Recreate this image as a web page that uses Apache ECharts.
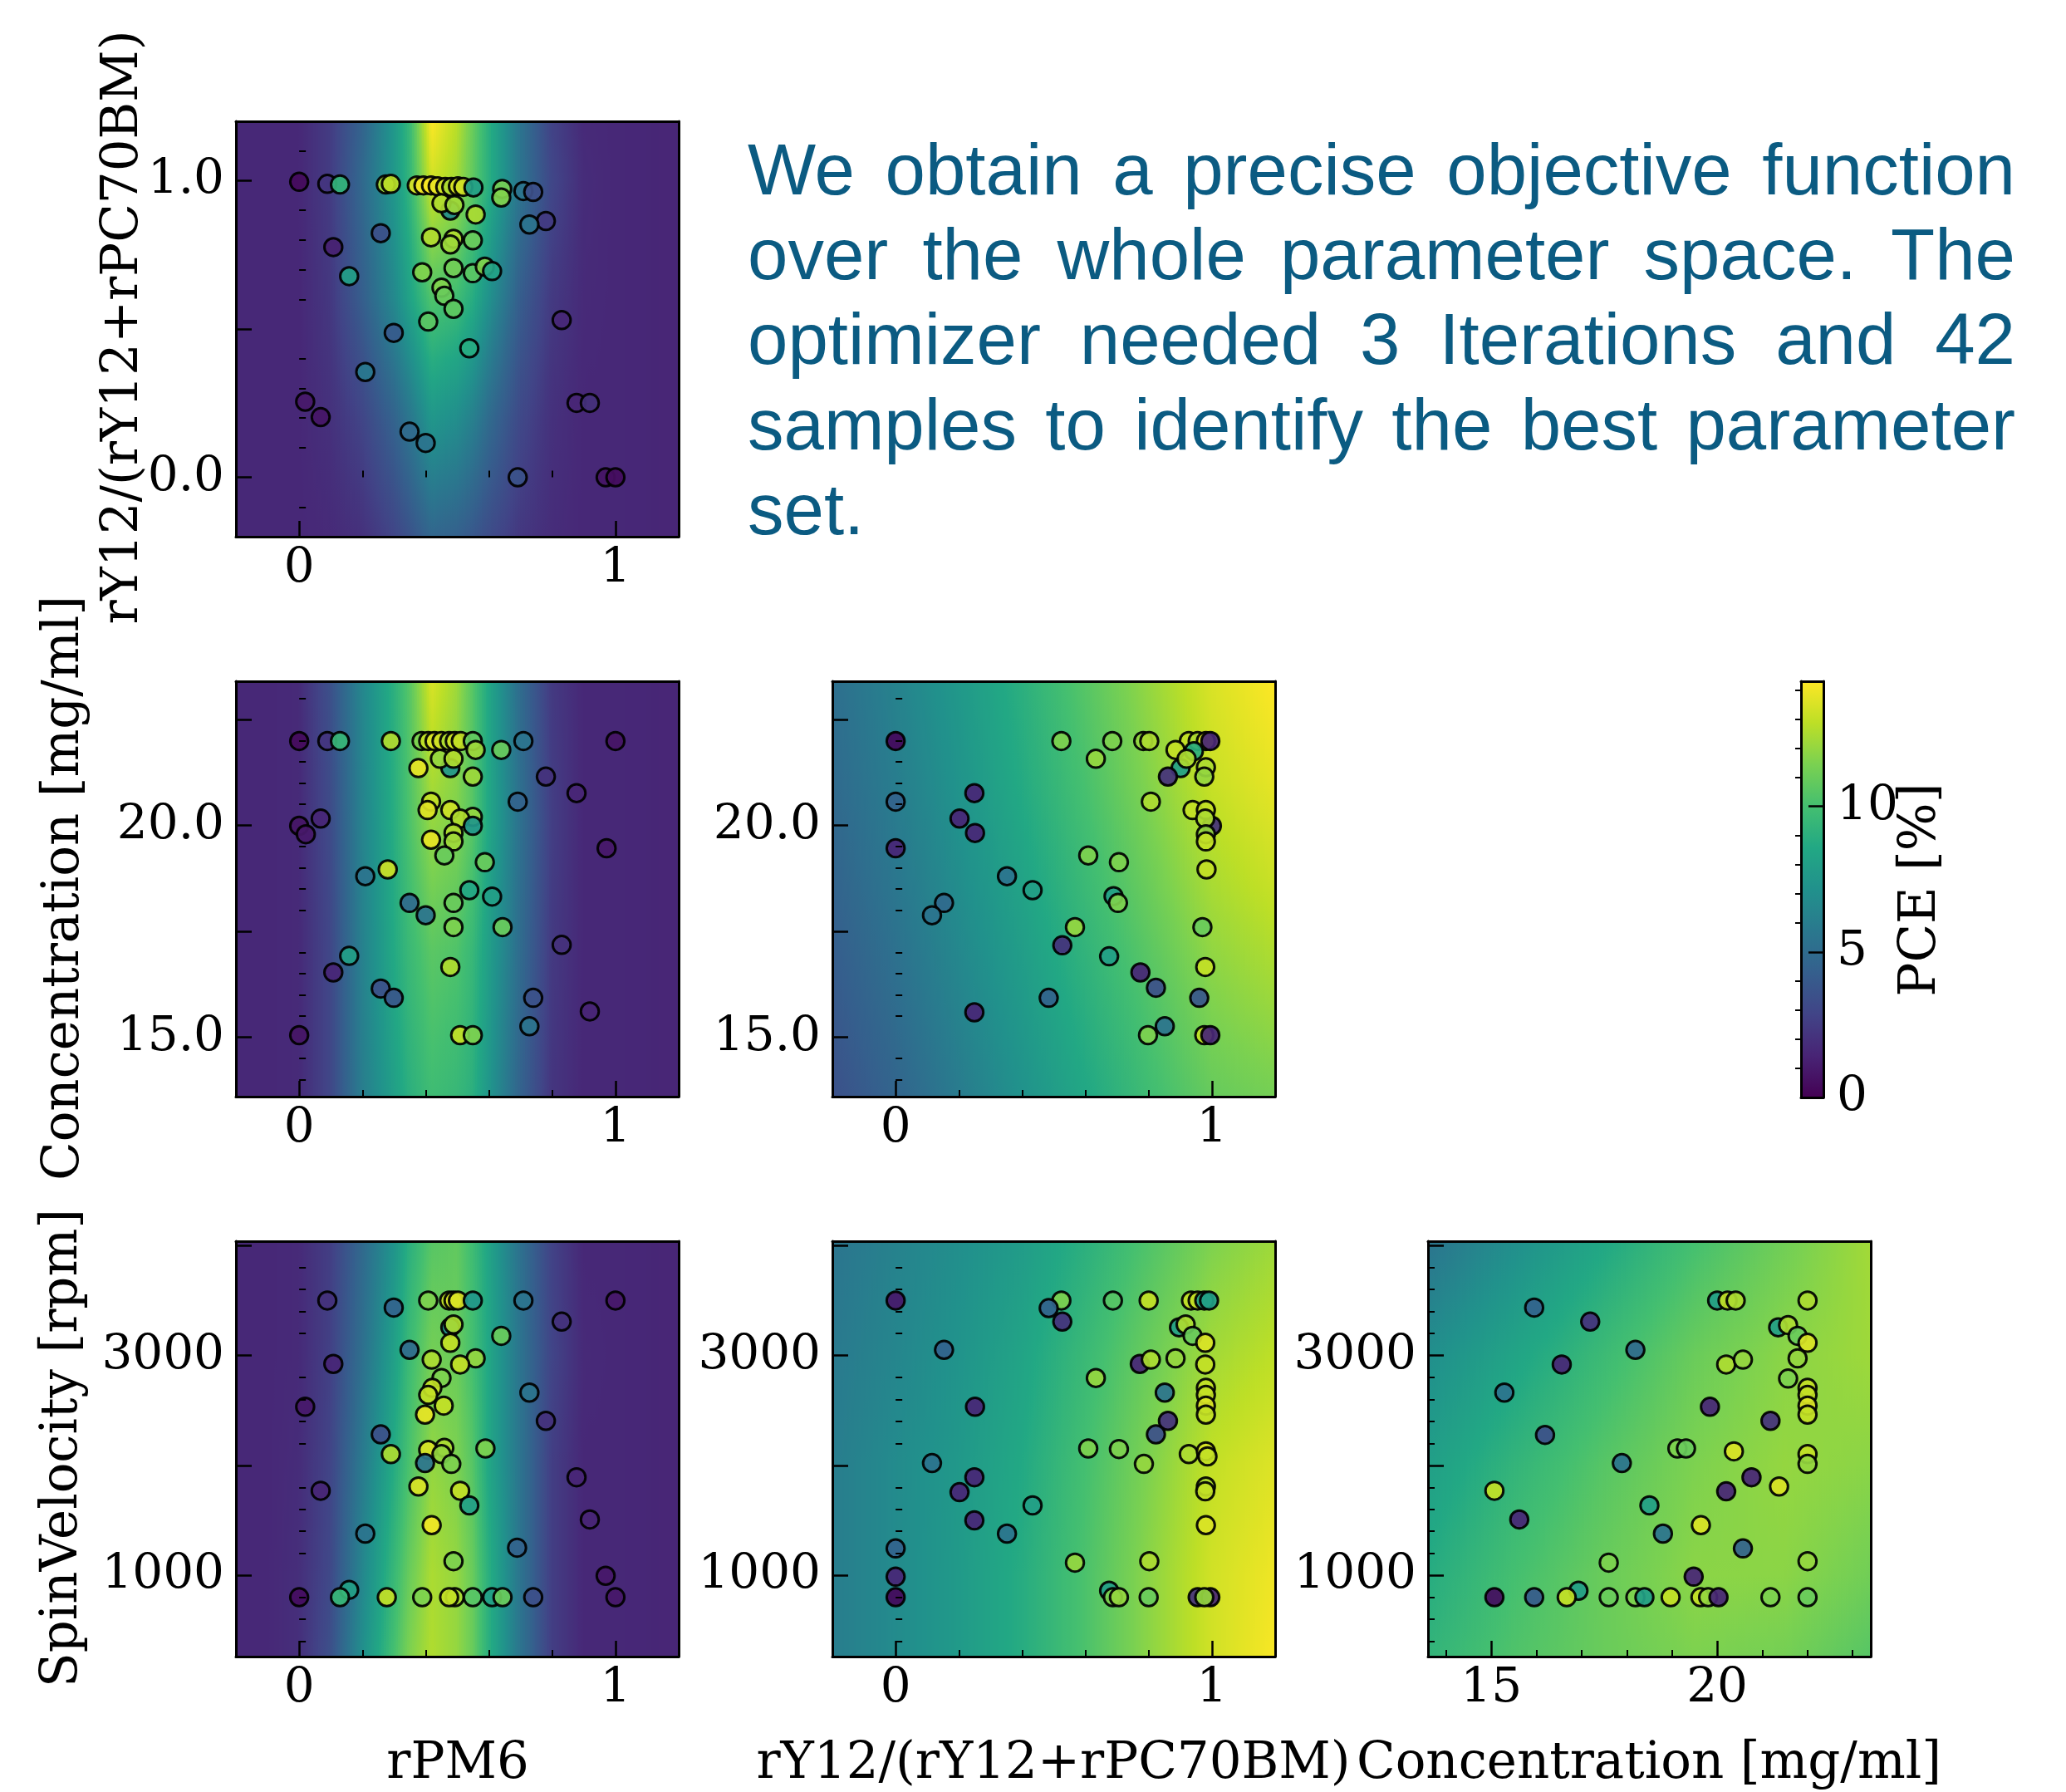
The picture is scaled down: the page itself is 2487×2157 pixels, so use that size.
<!DOCTYPE html>
<html><head><meta charset="utf-8">
<script src="https://cdn.jsdelivr.net/npm/echarts@6/dist/echarts.min.js"></script>
<style>html,body{margin:0;padding:0;background:#fff}#c{width:2487px;height:2157px}</style>
</head><body><div id="c"></div>
<script>
// ---------------- DATA ----------------
const pceRange = [0, 14.3];

const rangeRPM6 = [-0.2, 1.2];
const rangeRatio = [-0.2, 1.2];
const rangeConc = [13.6, 23.4];
const rangeSpin = [260, 4040];

const ticksUnitMajor = [0, 1];
const ticksUnitMinor = [0.2, 0.4, 0.6, 0.8];
const labelsUnitX = [0, 1];
const ticksRatioYMajor = [0, 0.5, 1];
const ticksRatioYMinor = [-0.1, 0.1, 0.2, 0.3, 0.4, 0.6, 0.7, 0.8, 0.9, 1.1];
const labelsRatioY = [0, 1];
const ticksConcXMajor = [15, 20];
const ticksConcXMinor = [14, 16, 17, 18, 19, 21, 22, 23];
const labelsConcX = [15, 20];
const ticksConcYMajor = [15, 17.5, 20, 22.5];
const ticksConcYMinor = [14, 14.5, 15.5, 16, 16.5, 17, 18, 18.5, 19, 19.5, 20.5, 21, 21.5, 22, 23];
const labelsConcY = [15, 20];
const ticksSpinMajor = [1000, 2000, 3000, 4000];
const ticksSpinMinor = [400, 600, 800, 1200, 1400, 1600, 1800, 2200, 2400, 2600, 2800, 3200, 3400, 3600, 3800];
const labelsSpin = [1000, 3000];
const ticksCbarMajor = [0, 5, 10];
const ticksCbarMinor = [1, 2, 3, 4, 6, 7, 8, 9, 11, 12, 13, 14];
const labelsCbar = [0, 5, 10];

const titleRPM6 = 'rPM6';
const titleRatio = 'rY12/(rY12+rPC70BM)';
const titleConc = 'Concentration [mg/ml]';
const titleSpin = 'SpinVelocity [rpm]';
const titleCbar = 'PCE [%]';
const paraLines = [
  'We obtain a precise objective function',
  'over the whole parameter space. The',
  'optimizer needed 3 Iterations and 42',
  'samples to identify the best parameter',
  'set.'
];

// background surfaces (model prediction, PCE), rows follow the y nodes
const bgRpmRatioX = [-0.2,-0.1,0,0.1,0.2,0.3,0.35,0.42,0.5,0.55,0.6,0.7,0.8,0.9,1.0,1.2];
const bgRpmRatioY = [-0.2,0.2,0.6,1.0,1.2];
const bgRpmRatioZ = [
  [1.6,1.6,1.6,1.7,2.0,2.9,3.6,4.7,4.4,3.9,3.3,2.3,1.8,1.6,1.6,1.5],
  [1.6,1.6,1.6,2.0,2.9,4.5,5.6,7.5,7.0,6.2,5.0,3.1,2.0,1.6,1.6,1.5],
  [1.6,1.6,1.6,2.3,4.2,6.6,8.2,10.3,9.8,8.8,7.2,4.2,2.4,1.7,1.6,1.5],
  [1.6,1.6,1.6,2.5,4.8,7.5,9.3,13.3,12.3,10.8,9.0,5.5,3.0,1.8,1.6,1.5],
  [1.6,1.6,1.6,2.5,4.5,7.5,9.5,14.3,12.8,11.0,9.0,5.5,2.8,1.7,1.6,1.5]
];
const bgRpmConcX = [-0.2,-0.1,0,0.1,0.2,0.3,0.35,0.42,0.5,0.55,0.6,0.7,0.8,0.9,1.0,1.2];
const bgRpmConcY = [13.6,17,20,23.4];
const bgRpmConcZ = [
  [1.6,1.6,1.7,3.0,6.0,8.0,9.0,9.8,9.5,9.0,7.5,4.5,2.2,1.6,1.6,1.5],
  [1.6,1.6,1.7,3.0,6.2,8.6,9.6,10.6,10.3,9.5,8.0,5.0,2.4,1.6,1.6,1.5],
  [1.6,1.6,1.7,3.2,6.3,8.8,10.2,12.0,11.5,10.5,8.5,5.3,2.6,1.6,1.6,1.5],
  [1.6,1.6,1.7,3.5,6.5,9.0,10.5,13.5,12.2,10.5,8.5,5.0,2.4,1.6,1.6,1.5]
];
const bgRatioConcX = [-0.2,0,0.2,0.4,0.6,0.8,1.0,1.2];
const bgRatioConcY = [13.6,16,18.5,21,23.4];
const bgRatioConcZ = [
  [3.5,4.6,5.9,7.2,8.5,9.8,10.9,11.3],
  [4.0,5.1,6.4,7.7,9.0,10.3,11.6,12.2],
  [4.5,5.6,6.9,8.2,9.6,11.0,12.4,13.1],
  [4.9,6.0,7.3,8.7,10.1,11.6,13.1,13.8],
  [5.2,6.3,7.6,9.0,10.5,12.0,13.5,14.3]
];
const bgRpmSpinX = [-0.2,-0.1,0,0.1,0.2,0.3,0.35,0.42,0.5,0.55,0.6,0.7,0.8,0.9,1.0,1.2];
const bgRpmSpinY = [260,1000,2000,3000,4040];
const bgRpmSpinZ = [
  [1.6,1.6,1.9,3.5,7.0,10.0,11.5,12.6,12.0,11.0,9.0,5.5,2.6,1.6,1.6,1.5],
  [1.6,1.6,1.9,3.1,6.5,9.5,11.0,12.5,12.0,11.0,9.0,5.5,2.6,1.6,1.6,1.5],
  [1.6,1.6,1.8,2.9,5.8,8.7,10.2,12.0,11.5,10.5,8.5,5.5,2.6,1.6,1.6,1.5],
  [1.6,1.6,1.7,2.7,5.2,8.0,9.7,11.3,11.0,10.0,8.5,5.5,2.9,1.7,1.6,1.5],
  [1.6,1.6,1.7,2.6,4.8,7.3,9.0,10.5,10.8,9.8,8.3,5.3,2.8,1.6,1.6,1.5]
];
const bgRatioSpinX = [-0.2,0,0.2,0.4,0.6,0.8,1.0,1.2];
const bgRatioSpinY = [260,1000,2000,3000,4040];
const bgRatioSpinZ = [
  [6.0,6.8,7.7,8.8,10.2,11.8,13.3,14.2],
  [6.0,6.8,7.7,8.8,10.2,11.8,13.3,14.0],
  [6.0,6.8,7.6,8.6,10.0,11.5,13.0,13.6],
  [5.8,6.5,7.3,8.3,9.6,11.0,12.3,12.9],
  [5.5,6.3,7.0,7.8,9.0,10.3,11.5,12.2]
];
const bgConcSpinX = [13.6,15.5,17.5,19.5,21.5,23.4];
const bgConcSpinY = [260,1000,2000,3000,4040];
const bgConcSpinZ = [
  [9.3,10.3,11.0,11.5,11.3,10.5],
  [8.8,10.0,11.0,11.8,11.8,11.2],
  [8.0,9.3,10.5,11.5,12.0,11.8],
  [7.0,8.3,9.7,11.0,11.8,12.2],
  [5.5,7.0,8.5,10.0,11.2,12.3]
];

// samples [x, y, PCE]
const ptsRpmRatio = [
[0.000,0.996,0.4],[0.089,0.989,2.2],[0.129,0.987,9.3],[0.274,0.987,12.3],[0.290,0.989,12.8],
[0.372,0.984,13.5],[0.393,0.984,14.0],[0.417,0.984,14.2],[0.438,0.981,13.8],[0.462,0.979,13.2],
[0.481,0.979,12.5],[0.502,0.981,13.5],[0.519,0.979,13.3],[0.551,0.977,8.0],[0.642,0.972,11.3],
[0.639,0.943,11.6],[0.709,0.965,5.5],[0.740,0.962,3.5],[0.478,0.899,7.0],[0.450,0.924,12.6],
[0.491,0.918,12.2],[0.558,0.886,12.5],[0.780,0.864,2.4],[0.728,0.852,5.5],[0.258,0.823,3.5],
[0.417,0.809,12.6],[0.488,0.804,12.6],[0.478,0.785,12.2],[0.549,0.799,11.0],[0.108,0.776,1.3],
[0.389,0.691,11.6],[0.488,0.705,11.2],[0.549,0.688,10.6],[0.587,0.710,11.6],[0.610,0.695,8.3],
[0.158,0.678,8.0],[0.450,0.639,11.6],[0.459,0.612,11.0],[0.488,0.568,10.7],[0.408,0.525,10.6],
[0.830,0.530,1.6],[0.299,0.487,4.0],[0.538,0.435,8.8],[0.209,0.355,5.8],[0.019,0.255,1.0],
[0.068,0.203,0.8],[0.877,0.251,1.5],[0.919,0.251,2.0],[0.349,0.154,5.0],[0.400,0.116,5.5],
[0.691,0.000,3.6],[0.969,0.000,0.8],[1.000,0.000,0.5]
];
const ptsRpmConc = [
[0.000,21.99,0.4],[0.089,21.99,2.2],[0.129,21.99,9.5],[0.290,21.99,12.6],[0.387,21.99,11.5],
[0.408,21.99,13.0],[0.428,21.99,13.5],[0.450,21.99,13.3],[0.474,21.99,12.5],[0.492,21.99,13.2],
[0.511,21.99,13.0],[0.549,21.99,10.8],[0.709,21.99,5.5],[1.000,21.99,0.8],[0.558,21.78,12.2],
[0.639,21.78,11.0],[0.478,21.35,7.5],[0.445,21.57,12.0],[0.488,21.57,12.6],[0.377,21.35,13.8],
[0.549,21.15,12.2],[0.780,21.15,2.0],[0.877,20.76,1.5],[0.691,20.56,4.5],[0.417,20.56,13.0],
[0.406,20.36,13.6],[0.478,20.36,13.2],[0.549,20.20,12.0],[0.509,20.16,12.6],[0.549,19.99,7.5],
[0.068,20.16,1.5],[0.000,19.99,0.8],[0.021,19.79,1.0],[0.488,19.82,12.6],[0.488,19.62,12.2],
[0.417,19.66,13.8],[0.972,19.46,1.0],[0.459,19.29,11.0],[0.587,19.13,11.0],[0.280,18.96,13.2],
[0.209,18.80,5.5],[0.538,18.47,8.5],[0.610,18.32,8.0],[0.349,18.17,5.0],[0.400,17.88,5.5],
[0.488,18.17,11.0],[0.488,17.60,11.5],[0.643,17.60,11.0],[0.830,17.18,2.0],[0.158,16.92,8.0],
[0.108,16.53,1.5],[0.478,16.66,12.6],[0.258,16.15,3.5],[0.299,15.93,3.8],[0.740,15.93,3.6],
[0.919,15.61,1.5],[0.728,15.26,5.5],[0.000,15.05,0.8],[0.509,15.05,13.0],[0.549,15.05,11.5]
];
const ptsRatioConc = [
[0.000,21.99,0.3],[0.524,21.99,11.5],[0.685,21.99,11.5],[0.783,21.99,12.0],[0.802,21.99,12.5],
[0.927,21.99,13.0],[0.955,21.99,12.5],[0.981,21.99,13.5],[0.995,21.99,1.5],[0.633,21.57,12.0],
[0.885,21.78,13.0],[0.901,21.35,8.0],[0.943,21.75,9.0],[0.920,21.57,12.5],[0.861,21.15,2.0],
[0.981,21.37,12.5],[0.976,21.15,12.0],[0.249,20.76,1.5],[0.000,20.56,4.5],[0.807,20.56,12.5],
[1.000,19.99,2.0],[0.939,20.36,13.0],[0.981,20.36,13.0],[0.979,20.16,12.5],[0.981,19.79,12.0],
[0.981,19.62,13.0],[0.202,20.16,1.5],[0.251,19.82,1.5],[0.000,19.46,1.5],[0.609,19.29,11.5],
[0.706,19.13,11.5],[0.983,18.96,13.0],[0.352,18.80,5.5],[0.433,18.47,8.0],[0.689,18.33,8.0],
[0.703,18.17,11.5],[0.153,18.17,5.0],[0.115,17.88,5.5],[0.567,17.60,12.0],[0.970,17.60,11.0],
[0.527,17.17,2.0],[0.675,16.91,8.0],[0.979,16.66,13.0],[0.774,16.53,1.5],[0.823,16.17,3.5],
[0.484,15.93,4.5],[0.960,15.93,3.8],[0.249,15.59,1.5],[0.851,15.26,5.5],[0.798,15.05,11.5],
[0.976,15.05,13.0],[0.995,15.05,1.5]
];
const ptsRpmSpin = [
[0.089,3500,2.0],[0.299,3436,4.5],[0.408,3500,11.5],[0.474,3500,13.0],[0.488,3500,13.5],
[0.502,3500,13.5],[0.549,3500,7.5],[0.709,3500,5.5],[1.000,3500,1.0],[0.830,3308,2.0],
[0.478,3256,7.0],[0.488,3282,12.5],[0.639,3179,11.0],[0.478,3115,13.0],[0.349,3051,5.0],
[0.108,2923,1.5],[0.419,2962,12.5],[0.558,2974,12.0],[0.509,2918,13.0],[0.450,2795,11.5],
[0.421,2705,13.0],[0.408,2641,13.0],[0.728,2662,5.5],[0.019,2533,1.0],[0.457,2544,13.0],
[0.398,2462,13.8],[0.780,2405,2.0],[0.258,2282,3.5],[0.459,2159,12.5],[0.290,2103,12.5],
[0.408,2141,13.5],[0.450,2103,12.0],[0.589,2154,11.5],[0.398,2021,5.5],[0.481,2013,11.5],
[0.877,1892,1.5],[0.068,1769,1.5],[0.377,1808,13.5],[0.509,1769,13.0],[0.538,1636,8.0],
[0.919,1508,1.5],[0.419,1456,14.0],[0.209,1379,5.5],[0.689,1251,4.5],[0.488,1128,11.5],
[0.969,995,1.0],[0.158,867,8.0],[0.000,800,0.5],[0.129,800,9.5],[0.277,800,13.0],
[0.389,800,11.5],[0.492,800,12.5],[0.474,800,13.0],[0.549,800,10.5],[0.610,800,8.0],
[0.643,800,11.0],[0.740,800,3.5],[1.000,800,1.0]
];
const ptsRatioSpin = [
[0.000,3500,1.0],[0.524,3500,11.5],[0.484,3431,4.5],[0.527,3308,2.0],[0.687,3500,10.5],
[0.800,3500,13.0],[0.934,3500,13.0],[0.955,3500,13.0],[0.976,3500,8.0],[0.991,3500,8.0],
[0.896,3256,8.0],[0.917,3282,12.5],[0.939,3179,11.0],[0.979,3115,13.5],[0.153,3051,4.5],
[0.772,2923,1.5],[0.807,2962,12.5],[0.885,2974,12.0],[0.979,2918,13.0],[0.633,2795,12.0],
[0.851,2662,5.5],[0.981,2705,13.0],[0.981,2641,13.0],[0.981,2544,13.5],[0.981,2462,13.0],
[0.251,2533,1.5],[0.861,2405,2.0],[0.823,2282,3.5],[0.609,2154,11.5],[0.706,2149,11.5],
[0.927,2103,12.5],[0.981,2128,13.5],[0.986,2082,13.0],[0.785,2013,12.0],[0.115,2021,5.5],
[0.249,1892,1.5],[0.202,1756,1.5],[0.981,1808,12.5],[0.979,1764,13.0],[0.433,1636,8.0],
[0.249,1500,1.5],[0.352,1379,5.5],[0.981,1456,13.5],[0.000,1244,4.5],[0.567,1115,12.0],
[0.802,1128,12.5],[0.000,987,1.5],[0.675,859,8.0],[0.000,800,0.3],[0.687,800,11.5],
[0.706,800,12.0],[0.800,800,11.0],[0.955,800,2.0],[0.995,800,1.5],[0.976,800,12.0]
];
const ptsConcSpin = [
[15.95,3436,4.5],[17.19,3308,2.0],[20.00,3500,8.0],[20.23,3500,13.0],[20.41,3500,12.5],
[22.00,3500,12.5],[21.35,3256,8.0],[21.57,3277,12.5],[21.78,3179,11.0],[22.00,3115,13.5],
[18.19,3051,5.0],[16.56,2918,1.5],[20.20,2918,12.5],[20.57,2962,12.0],[21.78,2974,12.0],
[21.57,2790,11.5],[15.29,2662,5.5],[22.00,2705,13.0],[22.00,2641,13.0],[22.00,2544,13.5],
[22.00,2462,13.0],[19.84,2533,1.5],[21.18,2405,2.0],[16.19,2277,3.5],[19.12,2154,11.5],
[19.31,2154,11.0],[20.37,2128,13.5],[22.00,2103,13.0],[22.00,2013,12.0],[17.89,2021,5.5],
[20.76,1892,1.5],[15.07,1769,13.0],[20.20,1764,1.5],[21.37,1808,13.5],[18.50,1636,8.0],
[15.62,1508,1.5],[19.64,1456,13.5],[18.80,1379,5.5],[20.57,1244,4.5],[17.60,1115,11.5],
[22.00,1128,12.0],[19.48,987,1.5],[16.93,859,8.0],[15.07,800,0.5],[15.95,800,4.0],
[16.67,800,13.0],[17.60,800,11.0],[18.19,800,11.5],[18.39,800,8.0],[18.97,800,13.0],
[19.63,800,13.0],[19.80,800,12.0],[20.03,800,1.5],[21.18,800,11.5],[22.00,800,11.0]
];

// ---------------- COLORMAP ----------------
const VIR = ['#440154','#482475','#414487','#355f8d','#2a788e','#21918c','#22a884','#44bf70','#7ad151','#bddf26','#fde725'];
const VIR_RGB = VIR.map(h => [parseInt(h.slice(1,3),16), parseInt(h.slice(3,5),16), parseInt(h.slice(5,7),16)]);
function viridis(v) {
  let t = (v - pceRange[0]) / (pceRange[1] - pceRange[0]);
  t = Math.max(0, Math.min(1, t));
  const f = t * 10, i = Math.min(9, Math.floor(f)), u = f - i;
  const a = VIR_RGB[i], b = VIR_RGB[i + 1];
  return 'rgb(' + Math.round(a[0] + (b[0] - a[0]) * u) + ',' + Math.round(a[1] + (b[1] - a[1]) * u) + ',' + Math.round(a[2] + (b[2] - a[2]) * u) + ')';
}

// ---------------- BUILD ----------------
const bgPanels = [
  { x: bgRpmRatioX, y: bgRpmRatioY, z: bgRpmRatioZ },
  { x: bgRpmConcX, y: bgRpmConcY, z: bgRpmConcZ },
  { x: bgRatioConcX, y: bgRatioConcY, z: bgRatioConcZ },
  { x: bgRpmSpinX, y: bgRpmSpinY, z: bgRpmSpinZ },
  { x: bgRatioSpinX, y: bgRatioSpinY, z: bgRatioSpinZ },
  { x: bgConcSpinX, y: bgConcSpinY, z: bgConcSpinZ }
];
// Shaded surface: thin vertical columns, each with a vertical gradient through the y nodes.
function renderSurface(params, api) {
  const P = bgPanels[api.value(0)];
  const gx = P.x, gy = P.y, gz = P.z;
  const nx = gx.length, ny = gy.length;
  const pyTop = api.coord([gx[0], gy[ny - 1]])[1];
  const pyBot = api.coord([gx[0], gy[0]])[1];
  const H = pyBot - pyTop;
  const offY = gy.map(v => (api.coord([gx[0], v])[1] - pyTop) / H);
  const children = [];
  for (let i = 0; i < nx - 1; i++) {
    const xl = api.coord([gx[i], gy[0]])[0];
    const xr = api.coord([gx[i + 1], gy[0]])[0];
    const ww = xr - xl;
    const S = Math.max(1, Math.ceil(ww / 3));
    const w = ww / S;
    for (let s = 0; s < S; s++) {
      const tx = (s + 0.5) / S;
      const col = [];
      for (let j = 0; j < ny; j++) col.push(gz[j][i] + (gz[j][i + 1] - gz[j][i]) * tx);
      const stops = [];
      const K = 6;
      for (let j = ny - 1; j > 0; j--) {
        for (let k = 0; k < K; k++) {
          const t = k / K;
          stops.push({ offset: offY[j] + (offY[j - 1] - offY[j]) * t, color: viridis(col[j] + (col[j - 1] - col[j]) * t) });
        }
      }
      stops.push({ offset: 1, color: viridis(col[0]) });
      children.push({ type: 'rect', silent: true,
        shape: { x: xl + s * w - 0.6, y: pyTop, width: w + 1.2, height: H },
        style: { fill: new echarts.graphic.LinearGradient(0, 0, 0, 1, stops) } });
    }
  }
  return { type: 'group', children };
}

const FONT_SERIF = '"DejaVu Serif", "Liberation Serif", serif';
const grids = [
  { left: 284, top: 146, width: 533, height: 500 },
  { left: 284, top: 820, width: 533, height: 500 },
  { left: 1002, top: 820, width: 533, height: 500 },
  { left: 284, top: 1494, width: 533, height: 500 },
  { left: 1002, top: 1494, width: 533, height: 500 },
  { left: 1719, top: 1494, width: 533, height: 500 },
  { left: 2168, top: 820, width: 27, height: 501 }
].map(g => Object.assign({ show: false, outerBoundsMode: 'none', containLabel: false }, g));

const xAxisList = [], yAxisList = [];
function addAxes(list, dim, gi, range, majors, minors, labels, fmt, mainPos, otherPos) {
  const line = { show: true, onZero: false, lineStyle: { color: '#000', width: 3 } };
  const base = { gridIndex: gi, type: 'value', min: range[0], max: range[1], splitLine: { show: false }, z: 10, silent: true };
  const mainIdx = list.length;
  list.push(Object.assign({}, base, { position: mainPos, axisLine: line,
    axisTick: { show: true, inside: true, length: 19, customValues: majors, lineStyle: { color: '#000', width: 2.5 } },
    axisLabel: { show: true, customValues: labels, formatter: fmt, margin: dim === 'x' ? 10 : 14, color: '#000', fontFamily: FONT_SERIF, fontSize: 58 } }));
  list.push(Object.assign({}, base, { position: mainPos, axisLine: { show: false },
    axisTick: { show: true, inside: true, length: 8, customValues: minors, lineStyle: { color: '#000', width: 2 } },
    axisLabel: { show: false } }));
  list.push(Object.assign({}, base, { position: otherPos, axisLine: line, axisTick: { show: false }, axisLabel: { show: false } }));
  return mainIdx;
}
const fmtInt = v => String(Math.round(v));
const fmt1 = v => v.toFixed(1);

const xUnit = (gi) => addAxes(xAxisList, 'x', gi, rangeRPM6, ticksUnitMajor, ticksUnitMinor, labelsUnitX, fmtInt, 'bottom', 'top');
const xRatio = (gi) => addAxes(xAxisList, 'x', gi, rangeRatio, ticksUnitMajor, ticksUnitMinor, labelsUnitX, fmtInt, 'bottom', 'top');
const xConc = (gi) => addAxes(xAxisList, 'x', gi, rangeConc, ticksConcXMajor, ticksConcXMinor, labelsConcX, fmtInt, 'bottom', 'top');
const yRatio = (gi) => addAxes(yAxisList, 'y', gi, rangeRatio, ticksRatioYMajor, ticksRatioYMinor, labelsRatioY, fmt1, 'left', 'right');
const yConc = (gi) => addAxes(yAxisList, 'y', gi, rangeConc, ticksConcYMajor, ticksConcYMinor, labelsConcY, fmt1, 'left', 'right');
const ySpin = (gi) => addAxes(yAxisList, 'y', gi, rangeSpin, ticksSpinMajor, ticksSpinMinor, labelsSpin, fmtInt, 'left', 'right');

const series = [];
function addPanel(pid, xi, yi, pts) {
  const P = bgPanels[pid];
  series.push({ type: 'custom', xAxisIndex: xi, yAxisIndex: yi,
    data: [[pid, P.x[0], P.x[P.x.length - 1], P.y[0], P.y[P.y.length - 1]]],
    renderItem: renderSurface, encode: { x: [1, 2], y: [3, 4] }, clip: true, silent: true, z: 1, animation: false });
  series.push({ type: 'scatter', xAxisIndex: xi, yAxisIndex: yi, data: pts, symbol: 'circle', symbolSize: 21.5, clip: false,
    itemStyle: { color: p => viridis(p.value[2]), borderColor: '#000', borderWidth: 3, opacity: 0.93 },
    silent: true, z: 5, animation: false });
}
addPanel(0, xUnit(0), yRatio(0), ptsRpmRatio);
addPanel(1, xUnit(1), yConc(1), ptsRpmConc);
addPanel(2, xRatio(2), yConc(2), ptsRatioConc);
addPanel(3, xUnit(3), ySpin(3), ptsRpmSpin);
addPanel(4, xRatio(4), ySpin(4), ptsRatioSpin);
addPanel(5, xConc(5), ySpin(5), ptsConcSpin);

// colorbar
const cbLine = { show: true, onZero: false, lineStyle: { color: '#000', width: 3 } };
const cbX = xAxisList.length;
xAxisList.push({ gridIndex: 6, type: 'value', min: 0, max: 1, position: 'bottom', axisLine: cbLine, axisTick: { show: false }, axisLabel: { show: false }, splitLine: { show: false }, z: 10 });
xAxisList.push({ gridIndex: 6, type: 'value', min: 0, max: 1, position: 'top', axisLine: cbLine, axisTick: { show: false }, axisLabel: { show: false }, splitLine: { show: false }, z: 10 });
const cbY = yAxisList.length;
yAxisList.push({ gridIndex: 6, type: 'value', min: pceRange[0], max: pceRange[1], position: 'right', axisLine: cbLine,
  axisTick: { show: true, inside: true, length: 18, customValues: ticksCbarMajor, lineStyle: { color: '#000', width: 2.5 } },
  axisLabel: { show: true, customValues: labelsCbar, formatter: fmtInt, margin: 16, color: '#000', fontFamily: FONT_SERIF, fontSize: 58 },
  splitLine: { show: false }, z: 10 });
yAxisList.push({ gridIndex: 6, type: 'value', min: pceRange[0], max: pceRange[1], position: 'right', axisLine: { show: false },
  axisTick: { show: true, inside: true, length: 7, customValues: ticksCbarMinor, lineStyle: { color: '#000', width: 2 } },
  axisLabel: { show: false }, splitLine: { show: false }, z: 10 });
yAxisList.push({ gridIndex: 6, type: 'value', min: pceRange[0], max: pceRange[1], position: 'left', axisLine: cbLine,
  axisTick: { show: false }, axisLabel: { show: false }, splitLine: { show: false }, z: 10 });
series.push({ type: 'custom', xAxisIndex: cbX, yAxisIndex: cbY, data: [[0, 1, pceRange[0], pceRange[1]]],
  encode: { x: [0, 1], y: [2, 3] }, silent: true, z: 1, animation: false,
  renderItem: (params, api) => {
    const lo = api.value(2), hi = api.value(3);
    const p0 = api.coord([api.value(0), lo]), p1 = api.coord([api.value(1), hi]);
    const stops = [];
    for (let k = 0; k <= 20; k++) stops.push({ offset: k / 20, color: viridis(hi - (hi - lo) * k / 20) });
    return { type: 'rect', shape: { x: p0[0], y: p1[1], width: p1[0] - p0[0], height: p0[1] - p1[1] },
      style: { fill: new echarts.graphic.LinearGradient(0, 0, 0, 1, stops) } };
  } });

// ---------------- TEXT ----------------
const graphics = [];
function addText(text, x, y, size, rot) {
  graphics.push({ type: 'text', x, y, rotation: rot || 0, silent: true,
    style: { text, font: size + 'px ' + FONT_SERIF, fill: '#000', align: 'center', verticalAlign: 'middle', textAlign: 'center', textVerticalAlign: 'middle' } });
}
addText(titleRPM6, 551, 2124, 61, 0);
addText(titleRatio, 1268, 2124, 61, 0);
addText(titleConc, 1985, 2124, 61, 0);
addText(titleRatio, 149, 394, 61, Math.PI / 2);
addText(titleConc, 78, 1069, 61, Math.PI / 2);
addText(titleSpin, 76, 1743, 61, Math.PI / 2);
addText(titleCbar, 2313, 1071, 61, Math.PI / 2);

const paraFont = '87px "Liberation Sans", Arial, Helvetica, sans-serif';
const paraColor = '#0b5b82';
const paraLeft = 900, paraRight = 2426, paraBase0 = 240, paraStep = 102.2;
const mctx = document.createElement('canvas').getContext('2d');
mctx.font = paraFont;
const spaceW = mctx.measureText(' ').width;
paraLines.forEach((ln, li) => {
  const words = ln.split(' ');
  const ws = words.map(w => mctx.measureText(w).width);
  const total = ws.reduce((a, b) => a + b, 0);
  const last = li === paraLines.length - 1;
  const gap = (!last && words.length > 1) ? (paraRight - paraLeft - total) / (words.length - 1) : spaceW;
  let x = paraLeft;
  const y = paraBase0 + li * paraStep - 30;
  words.forEach((w, k) => {
    graphics.push({ type: 'text', x, y, silent: true,
      style: { text: w, font: paraFont, fill: paraColor, align: 'left', verticalAlign: 'middle', textAlign: 'left', textVerticalAlign: 'middle' } });
    x += ws[k] + gap;
  });
});

const chart = echarts.init(document.getElementById('c'), null, { renderer: 'canvas', width: 2487, height: 2157 });
chart.setOption({
  animation: false,
  backgroundColor: '#fff',
  grid: grids,
  xAxis: xAxisList,
  yAxis: yAxisList,
  series,
  graphic: { elements: graphics }
});
</script></body></html>
